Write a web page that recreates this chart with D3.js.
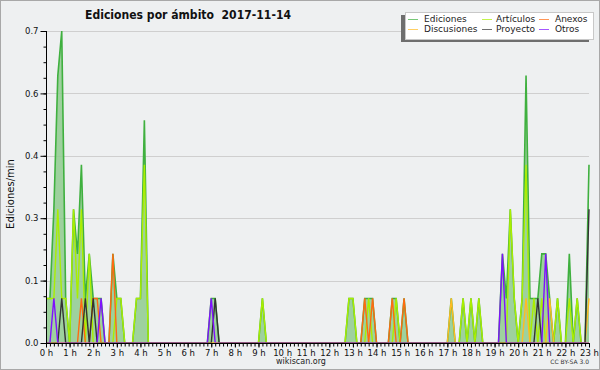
<!DOCTYPE html>
<html><head><meta charset="utf-8">
<script src="https://cdn.jsdelivr.net/npm/d3@7"></script>
<style>
html,body{margin:0;padding:0;background:#eef0f1;}
svg{display:block;}
text{font-family:"DejaVu Sans",sans-serif;}
</style></head><body>
<svg id="c" width="600" height="370"></svg>
<script>
const titleText = "Ediciones por ámbito  2017-11-14";
const yAxisTitle = "Ediciones/min";
const hourLabels = ["0 h","1 h","2 h","3 h","4 h","5 h","6 h","7 h","8 h","9 h","10 h","11 h","12 h","13 h","14 h","15 h","16 h","17 h","18 h","19 h","20 h","21 h","22 h","23 h"];
const yTickValues = [0, 0.14, 0.28, 0.42, 0.56, 0.7];
const legendNames = ["Ediciones","Discusiones","Artículos","Proyecto","Anexos","Otros"];

// values every 10 minutes, 0:00 .. 23:00 (edits/min)
const ediciones = [
 0.1,0.1,0.3,0.6,0.7,0.1,0,0.3,0.2,0.4,0.1,0.2,
 0.1,0.1,0.1,0,0,0.2,0.1,0.1,0,0,0,0.1,
 0.1,0.5,0,0,0,0,0,0,0,0,0,0,
 0,0,0,0,0,0,0.1,0.1,0,0,0,0,
 0,0,0,0,0,0,0,0.1,0,0,0,0,
 0,0,0,0,0,0,0,0,0,0,0,0,
 0,0,0,0,0,0.1,0.1,0,0,0.1,0.1,0.1,
 0,0,0,0,0.1,0.1,0,0.1,0,0,0,0,
 0,0,0,0,0,0,0,0.1,0,0,0.1,0,
 0.1,0,0.1,0,0,0,0,0,0.2,0.1,0.3,0.1,
 0,0.1,0.6,0.1,0.1,0.1,0.2,0.2,0.1,0,0.1,0,
 0,0.2,0,0.1,0,0,0.4];
const articulos = [
 0.1,0.1,0.1,0.3,0.1,0.1,0,0.3,0.1,0.3,0,0.2,
 0,0,0,0,0,0,0.1,0.1,0,0,0,0.1,
 0.1,0.4,0,0,0,0,0,0,0,0,0,0,
 0,0,0,0,0,0,0,0,0,0,0,0,
 0,0,0,0,0,0,0,0.1,0,0,0,0,
 0,0,0,0,0,0,0,0,0,0,0,0,
 0,0,0,0,0,0.1,0.1,0,0,0,0.1,0,
 0,0,0,0,0,0.1,0,0,0,0,0,0,
 0,0,0,0,0,0,0,0,0,0,0.1,0,
 0.1,0,0.1,0,0,0,0,0,0,0,0.3,0.1,
 0,0.1,0.4,0,0.1,0,0.1,0,0,0,0.1,0,
 0,0.1,0,0.1,0,0,0];
const anexos = [
 0,0,0,0,0,0,0,0,0,0.1,0,0,
 0.1,0.1,0,0,0,0.2,0,0,0,0,0,0,
 0,0,0,0,0,0,0,0,0,0,0,0,
 0,0,0,0,0,0,0,0,0,0,0,0,
 0,0,0,0,0,0,0,0,0,0,0,0,
 0,0,0,0,0,0,0,0,0,0,0,0,
 0,0,0,0,0,0,0,0,0,0.1,0,0.1,
 0,0,0,0,0.1,0,0,0.1,0,0,0,0,
 0,0,0,0,0,0,0,0,0,0,0,0,
 0,0,0,0,0,0,0,0,0,0,0,0,
 0,0,0,0,0,0,0,0,0,0,0,0,
 0,0,0,0,0,0,0];
const discusiones = [
 0,0,0,0,0,0,0,0,0,0,0,0,
 0,0,0,0,0,0,0,0,0,0,0,0,
 0,0,0,0,0,0,0,0,0,0,0,0,
 0,0,0,0,0,0,0,0,0,0,0,0,
 0,0,0,0,0,0,0,0,0,0,0,0,
 0,0,0,0,0,0,0,0,0,0,0,0,
 0,0,0,0,0,0,0,0,0,0,0,0,
 0,0,0,0,0,0,0,0,0,0,0,0,
 0,0,0,0,0,0,0,0.1,0,0,0,0,
 0,0,0,0,0,0,0,0,0,0,0,0,
 0,0,0.1,0,0,0,0,0,0.1,0,0,0,
 0,0,0,0,0,0,0.1];
const proyecto = [
 0,0,0,0,0.1,0,0,0,0,0,0.1,0,
 0.1,0,0,0,0,0,0,0,0,0,0,0,
 0,0,0,0,0,0,0,0,0,0,0,0,
 0,0,0,0,0,0,0,0.1,0,0,0,0,
 0,0,0,0,0,0,0,0,0,0,0,0,
 0,0,0,0,0,0,0,0,0,0,0,0,
 0,0,0,0,0,0,0,0,0,0,0,0,
 0,0,0,0,0,0,0,0,0,0,0,0,
 0,0,0,0,0,0,0,0,0,0,0,0,
 0,0,0,0,0,0,0,0,0,0,0,0,
 0,0,0,0,0,0.1,0,0,0,0,0,0,
 0,0,0,0,0,0,0.3];
const otros = [
 0,0,0.1,0,0,0,0,0,0,0,0,0,
 0,0,0.1,0,0,0,0,0,0,0,0,0,
 0,0,0,0,0,0,0,0,0,0,0,0,
 0,0,0,0,0,0,0.1,0,0,0,0,0,
 0,0,0,0,0,0,0,0,0,0,0,0,
 0,0,0,0,0,0,0,0,0,0,0,0,
 0,0,0,0,0,0,0,0,0,0,0,0,
 0,0,0,0,0,0,0,0,0,0,0,0,
 0,0,0,0,0,0,0,0,0,0,0,0,
 0,0,0,0,0,0,0,0,0.2,0,0,0,
 0,0,0,0,0,0,0,0.2,0,0,0,0,
 0,0,0,0,0,0,0];

const colors = {
  "Ediciones":"#3fb03f","Artículos":"#aaee00","Anexos":"#ff6a10",
  "Discusiones":"#ffbb22","Proyecto":"#333333","Otros":"#7f10ff"
};
const series = [
  {name:"Artículos", values:articulos},
  {name:"Anexos", values:anexos},
  {name:"Discusiones", values:discusiones},
  {name:"Proyecto", values:proyecto},
  {name:"Otros", values:otros}
];

const W=600,H=370, L=46, R=589, T=31, B=343;
const svg = d3.select("#c");
svg.append("rect").attr("x",0.5).attr("y",0.5).attr("width",W-1).attr("height",H-1)
  .attr("fill","#eef0f1").attr("stroke","#a8a8a8");

const x = d3.scaleLinear().domain([0,23]).range([L,R]);
const y = d3.scaleLinear().domain([0,0.7]).range([B,T]);
const tx = i => x(i/6);

// grid
svg.append("g").selectAll("line").data(yTickValues.filter(d=>d>0)).join("line")
  .attr("x1",L).attr("x2",R)
  .attr("y1",d=>Math.round(y(d))+0.5).attr("y2",d=>Math.round(y(d))+0.5)
  .attr("stroke","#cfcfcf").attr("stroke-width",1);

svg.append("defs").append("clipPath").attr("id","pc")
  .append("rect").attr("x",L).attr("y",10).attr("width",R-L+2).attr("height",B-10-0.5);

const plot = svg.append("g").attr("clip-path","url(#pc)");
plot.append("path").datum(ediciones)
  .attr("d", d3.area().x((d,i)=>tx(i)).y0(y(0)).y1(d=>y(d)))
  .attr("fill","#8fcb8f").attr("fill-opacity",0.85);
plot.append("path").datum(ediciones)
  .attr("d", d3.line().x((d,i)=>tx(i)).y(d=>y(d)))
  .attr("fill","none").attr("stroke",colors["Ediciones"]).attr("stroke-width",1.6);
const line = d3.line().x((d,i)=>tx(i)).y(d=>y(d));
series.forEach(s=>{
  plot.append("path").datum(s.values).attr("d",line)
    .attr("fill","none").attr("stroke",colors[s.name]).attr("stroke-width",1.4);
});

// axes
const fontTick = "8.5px";
const yMajor = svg.append("g").attr("transform",`translate(${L+0.5},0)`)
  .call(d3.axisLeft(y).tickValues(yTickValues).tickFormat(d3.format(".1f")).tickSize(6).tickPadding(2));
const yMinor = svg.append("g").attr("transform",`translate(${L+0.5},0)`)
  .call(d3.axisLeft(y).tickValues(d3.range(0,0.7001,0.035)).tickFormat("").tickSize(3));
const xMajor = svg.append("g").attr("transform",`translate(0,${B+0.5})`)
  .call(d3.axisBottom(x).tickValues(d3.range(0,24)).tickFormat(d=>hourLabels[d]).tickSize(4).tickPadding(2));
const xMinor = svg.append("g").attr("transform",`translate(0,${B+0.5})`)
  .call(d3.axisBottom(x).tickValues(d3.range(0,138.5).map(i=>i/6)).tickFormat("").tickSize(3));
[yMajor,yMinor,xMajor,xMinor].forEach(g=>{
  g.select(".domain").remove();
  g.selectAll("line").attr("stroke","#000");
  g.selectAll("text").attr("font-family","DejaVu Sans").attr("font-size",fontTick).attr("fill","#111");
});
svg.append("line").attr("x1",L+0.5).attr("x2",L+0.5).attr("y1",T).attr("y2",B+1).attr("stroke","#000");
svg.append("line").attr("x1",L).attr("x2",R+1).attr("y1",B+0.5).attr("y2",B+0.5).attr("stroke","#000");

// titles
svg.append("text").attr("x",85).attr("y",18.5).attr("font-weight","bold").attr("font-size","12px")
  .attr("xml:space","preserve").style("white-space","pre")
  .attr("textLength",206).attr("lengthAdjust","spacingAndGlyphs").attr("fill","#111").text(titleText);
svg.append("text").attr("transform","translate(14,194) rotate(-90)").attr("text-anchor","middle")
  .attr("font-size","10px").attr("fill","#111").text(yAxisTitle);
svg.append("text").attr("x",301).attr("y",364).attr("text-anchor","middle").attr("font-size","8px").attr("fill","#222").text("wikiscan.org");
svg.append("text").attr("x",589).attr("y",364).attr("text-anchor","end").attr("font-size","6px").attr("fill","#333").text("CC BY-SA 3.0");

// legend
const lg = svg.append("g");
lg.append("rect").attr("x",401).attr("y",15).attr("width",188).attr("height",27).attr("fill","#6e6e6e");
lg.append("rect").attr("x",405.5).attr("y",12.5).attr("width",188).attr("height",27).attr("fill","#fff").attr("stroke","#c8c8c8");
const legendPos = [
  {name:"Ediciones",lx:408,tx:424,row:0},{name:"Discusiones",lx:408,tx:424,row:1},
  {name:"Artículos",lx:482,tx:496,row:0},{name:"Proyecto",lx:482,tx:496,row:1},
  {name:"Anexos",lx:539,tx:555,row:0},{name:"Otros",lx:539,tx:555,row:1}
];
legendPos.forEach(p=>{
  const ly = p.row===0 ? 19.5 : 29.5;
  lg.append("line").attr("x1",p.lx).attr("x2",p.lx+10).attr("y1",ly).attr("y2",ly)
    .attr("stroke",colors[p.name]).attr("stroke-opacity",0.7).attr("stroke-width",1);
  lg.append("text").attr("x",p.tx).attr("y",p.row===0?21.5:32).attr("font-size","9px").attr("fill","#222").text(p.name);
});
</script>
</body></html>
